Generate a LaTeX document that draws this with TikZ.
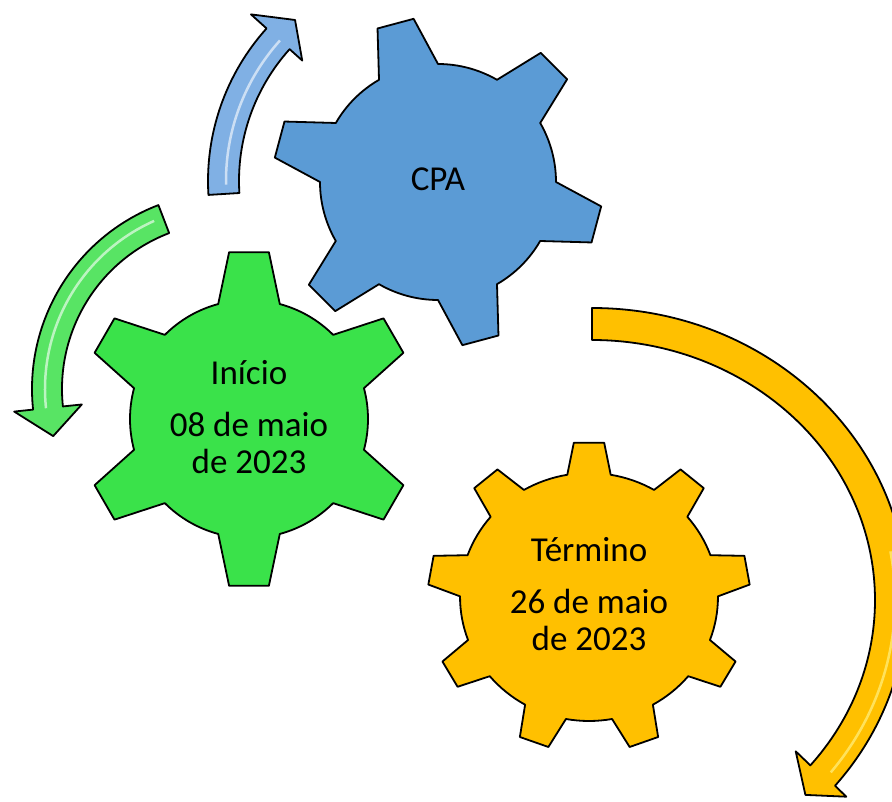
\documentclass[tikz,border=0pt]{standalone}
\usepackage{fontspec}
\setmainfont{Carlito}
\definecolor{verdeEng}{RGB}{58,226,74}
\definecolor{verdeSeta}{RGB}{88,228,100}
\definecolor{azulEng}{RGB}{91,155,213}
\definecolor{azulSeta}{RGB}{128,176,228}
\definecolor{amareloEng}{RGB}{255,192,0}
\begin{document}
\begin{tikzpicture}[x=1pt,y=1pt,line join=round,
  contorno/.style={draw=black,line width=1.8pt},
  brilho/.style={white,line width=2.5pt,opacity=.6},
  rotulo/.style={font=\fontsize{35}{37}\selectfont,align=center}]
 \useasboundingbox (0,0) rectangle (892,801);
 \clip (0,0) rectangle (892,801);
 \coordinate (gini) at (249,382); %centro da engrenagem verde
 \coordinate (gcpa) at (438,619); %centro da engrenagem azul
 \coordinate (gfim) at (589,204); %centro da engrenagem amarela
 % setas
 \draw[contorno,fill=verdeSeta,shift={(229,412)}] (111:197) arc[start angle=111,end angle=186,radius=197]
   -- (186:216) -- (195:182) -- (186:148) -- (186:167) arc[start angle=186,end angle=111,radius=167] -- cycle;
 \draw[brilho,shift={(229,412)}] (114:184) arc[start angle=114,end angle=186,radius=184];
 \draw[contorno,fill=azulSeta,shift={(436,620)}] (183.5:228) arc[start angle=183.5,end angle=138,radius=228]
   -- (138:249) -- (131.2:214) -- (138:180) -- (138:197) arc[start angle=138,end angle=183.5,radius=197] -- cycle;
 \draw[brilho,shift={(436,620)}] (181:210) arc[start angle=181,end angle=138,radius=210];
 \draw[contorno,fill=amareloEng,shift={(592,201)}] (90:315 and 292) arc[start angle=90,end angle=-39.5,x radius=315,y radius=292]
   -- (254.3,-196.7) -- (213.4,-194.9) -- (203.7,-151.3) -- (-39.5:283 and 260)
   arc[start angle=-39.5,end angle=90,x radius=283,y radius=260] -- cycle;
 \draw[brilho,yellow!40,shift={(592,201)}] (10:303 and 280) arc[start angle=10,end angle=-38,x radius=303,y radius=280];
 % engrenagens
 \draw[contorno,fill=verdeEng,shift={(gini)}] (75:119) \foreach \a in {90,150,...,420}{
   -- ({\a-15}:119) -- ({\a-6.8}:168) -- ({\a+6.8}:168) -- ({\a+15}:119) arc[start angle=\a+15,end angle=\a+45,radius=119]} -- cycle;
 \draw[contorno,fill=azulEng,shift={(gcpa)}] (90:118) \foreach \a in {105,165,...,435}{
   -- ({\a-15}:118) -- ({\a-6.5}:165) -- ({\a+6.5}:165) -- ({\a+15}:118) arc[start angle=\a+15,end angle=\a+45,radius=118]} -- cycle;
 \draw[contorno,fill=amareloEng,shift={(gfim)},xscale=1.04] (80.3:124) \foreach \a in {90,130,...,410}{
   -- ({\a-9.7}:124) -- ({\a-5.4}:155) -- ({\a+5.4}:155) -- ({\a+9.7}:124) arc[start angle=\a+9.7,end angle=\a+30.3,radius=124]} -- cycle;
 % textos
 \node[rotulo] (ini) at ([yshift=2]gini) {Início\\[15pt]08 de maio\\de 2023};
 \node[rotulo] (cpa) at ([yshift=3]gcpa) {CPA};
 \node[rotulo] (fim) at ([yshift=3]gfim) {Término\\[15pt]26 de maio\\de 2023};
\end{tikzpicture}
\end{document}
